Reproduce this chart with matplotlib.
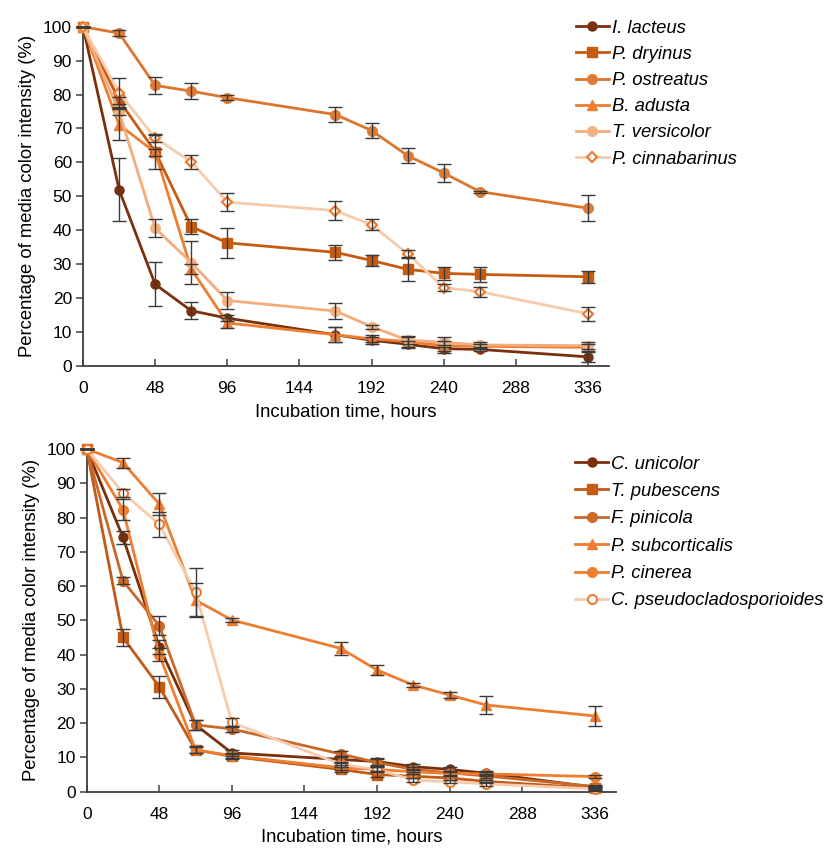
import matplotlib
matplotlib.use("Agg")
import matplotlib.pyplot as plt
import numpy as np

plt.rcParams['font.family'] = ['Liberation Sans', 'DejaVu Sans']

hours = [0, 24, 48, 72, 96, 168, 192, 216, 240, 264, 336]
x_ticks = [0, 48, 96, 144, 192, 240, 288, 336]
y_ticks = [0, 10, 20, 30, 40, 50, 60, 70, 80, 90, 100]

# ---- top panel ----
top_names = ["I. lacteus", "P. dryinus", "P. ostreatus", "B. adusta", "T. versicolor", "P. cinnabarinus"]
i_lacteus = [100, 52.0, 24.1, 16.3, 14.1, 9.2, 7.6, 6.4, 5.1, 4.9, 2.7]
p_dryinus = [100, 78.3, 63.2, 41.1, 36.3, 33.5, 31.1, 28.5, 27.3, 27.0, 26.3]
p_ostreatus = [100, 98.1, 82.7, 81.0, 79.1, 74.1, 69.4, 62.0, 56.9, 51.4, 46.5]
b_adusta = [100, 71.1, 63.0, 28.6, 12.7, 9.2, 8.0, 7.2, 6.0, 5.8, 5.5]
t_versicolor = [100, 75.0, 40.6, 30.5, 19.3, 16.2, 11.6, 7.6, 7.0, 6.2, 6.0]
p_cinnabarinus = [100, 80.6, 67.2, 60.2, 48.3, 45.8, 41.6, 33.1, 23.1, 21.9, 15.4]

i_lacteus_err = [0, 9.3, 6.5, 2.5, 0.8, 2.2, 1.0, 1.0, 1.2, 0.6, 1.5]
p_dryinus_err = [0, 1.0, 5.0, 2.2, 4.5, 2.2, 1.5, 3.3, 2.0, 2.2, 1.7]
p_ostreatus_err = [0, 0.8, 2.4, 2.3, 0.8, 2.2, 2.1, 2.2, 2.6, 0.3, 3.9]
b_adusta_err = [0, 4.6, 1.0, 1.5, 1.5, 2.2, 1.0, 1.5, 1.5, 0.8, 1.0]
t_versicolor_err = [0, 1.0, 2.7, 6.3, 2.5, 2.3, 0.6, 1.0, 1.5, 0.8, 1.0]
p_cinnabarinus_err = [0, 4.3, 1.2, 2.0, 2.7, 2.7, 1.6, 1.0, 1.0, 1.5, 2.0]

# ---- bottom panel ----
bot_names = ["C. unicolor", "T. pubescens", "F. pinicola", "P. subcorticalis", "P. cinerea", "C. pseudocladosporioides"]
c_unicolor = [100, 74.2, 42.3, 19.5, 11.3, 9.4, 8.8, 7.3, 6.5, 5.4, 1.3]
t_pubescens = [100, 45.0, 30.6, 12.2, 10.3, 6.5, 5.0, 4.5, 4.0, 3.0, 1.0]
f_pinicola = [100, 61.5, 48.4, 19.5, 18.3, 11.0, 8.5, 6.5, 5.5, 4.6, 1.5]
p_subcorticalis = [100, 96.0, 83.9, 55.9, 50.1, 41.8, 35.5, 31.1, 28.2, 25.3, 22.1]
p_cinerea = [100, 82.3, 40.0, 12.2, 10.5, 7.0, 6.5, 5.8, 5.3, 5.2, 4.4]
c_pseudo = [100, 87.2, 78.0, 58.2, 20.2, 8.0, 6.5, 3.4, 2.9, 2.3, 0.8]

c_unicolor_err = [0, 2.0, 2.0, 1.5, 1.0, 1.0, 1.0, 0.8, 0.8, 0.6, 0.5]
t_pubescens_err = [0, 2.5, 3.2, 1.0, 0.8, 0.8, 0.6, 0.6, 0.6, 0.5, 0.5]
f_pinicola_err = [0, 1.0, 2.8, 1.5, 1.0, 1.0, 1.0, 0.8, 0.6, 0.6, 0.5]
p_subcorticalis_err = [0, 1.5, 3.3, 5.0, 0.6, 2.0, 1.5, 0.6, 1.0, 2.6, 2.9]
p_cinerea_err = [0, 3.0, 2.0, 0.8, 0.8, 0.8, 0.6, 0.6, 0.6, 0.5, 0.5]
c_pseudo_err = [0, 1.2, 3.7, 7.0, 1.2, 0.8, 0.6, 0.5, 0.5, 0.5, 0.5]

top_series = [
    (i_lacteus, i_lacteus_err, dict(color='#7A300C', marker='o', mfc='#7A300C', mec='#7A300C', ms=6.5)),
    (p_dryinus, p_dryinus_err, dict(color='#C55A11', marker='s', mfc='#C55A11', mec='#C55A11', ms=6.5)),
    (p_ostreatus, p_ostreatus_err, dict(color='#DC752E', marker='o', mfc='#E07B35', mec='#E07B35', ms=7)),
    (b_adusta, b_adusta_err, dict(color='#ED7D31', marker='^', mfc='#ED7D31', mec='#ED7D31', ms=6.5)),
    (t_versicolor, t_versicolor_err, dict(color='#F4AC7C', marker='o', mfc='#F4B183', mec='#F4B183', ms=7)),
    (p_cinnabarinus, p_cinnabarinus_err, dict(color='#F8CBAD', marker='D', mfc='white', mec='#ED7D31', ms=5, mew=1.6)),
]
bot_series = [
    (c_unicolor, c_unicolor_err, dict(color='#7A300C', marker='o', mfc='#7A300C', mec='#7A300C', ms=6.5)),
    (t_pubescens, t_pubescens_err, dict(color='#C05A18', marker='s', mfc='#C55A11', mec='#C55A11', ms=6.5)),
    (f_pinicola, f_pinicola_err, dict(color='#C8692A', marker='o', mfc='#CC6A28', mec='#CC6A28', ms=7)),
    (p_subcorticalis, p_subcorticalis_err, dict(color='#ED7D31', marker='^', mfc='#ED7D31', mec='#ED7D31', ms=7)),
    (p_cinerea, p_cinerea_err, dict(color='#F07E30', marker='o', mfc='#F08030', mec='#F08030', ms=7)),
    (c_pseudo, c_pseudo_err, dict(color='#F8CBAD', marker='o', mfc='white', mec='#ED7D31', ms=6.5, mew=1.5)),
]

FS = 12.5
LFS = 13.3
fig = plt.figure(figsize=(8.25, 8.5), dpi=100)
ax1 = fig.add_axes([0.1006, 0.5694, 0.6376, 0.3992])
ax2 = fig.add_axes([0.1051, 0.0686, 0.6416, 0.4032])


def draw(ax, series, names, leg_xy, lspace):
    handles = []
    for vals, errs, st in series:
        st = dict(st)
        h, = ax.plot(hours, vals, lw=2.0, clip_on=False, zorder=3, **st)
        ax.errorbar(hours, vals, yerr=errs, fmt='none', ecolor='#3A3A3A',
                    elinewidth=1.0, capsize=5, capthick=1.0, zorder=4, clip_on=False)
        handles.append(h)
    ax.set_xlim(0, 350)
    ax.set_ylim(0, 100)
    ax.set_xticks(x_ticks)
    ax.set_xticklabels([str(t) for t in x_ticks])
    ax.set_yticks(y_ticks)
    ax.set_yticklabels([str(t) for t in y_ticks])
    for s in ['top', 'right']:
        ax.spines[s].set_visible(False)
    for s in ['left', 'bottom']:
        ax.spines[s].set_color('#404040')
        ax.spines[s].set_linewidth(1.3)
    ax.tick_params(axis='x', direction='in', length=5, width=1.1, color='#404040',
                   labelsize=FS, pad=11)
    ax.tick_params(axis='y', direction='out', length=5, width=1.1, color='#404040',
                   labelsize=FS, pad=3)
    ax.set_xlabel("Incubation time, hours", fontsize=13.3, labelpad=5)
    ax.set_ylabel("Percentage of media color intensity (%)", fontsize=13.3, labelpad=5)
    leg = fig.legend(handles, names, loc='upper left', bbox_to_anchor=leg_xy,
                     bbox_transform=fig.transFigure, frameon=False, borderpad=0,
                     borderaxespad=0, handlelength=1.8, handletextpad=0.16,
                     labelspacing=lspace, prop={'size': LFS, 'style': 'italic'})
    return leg


draw(ax1, top_series, top_names, (0.698, 0.977), 0.5)
draw(ax2, bot_series, bot_names, (0.697, 0.464), 0.56)

fig.savefig("out.png", dpi=100)
